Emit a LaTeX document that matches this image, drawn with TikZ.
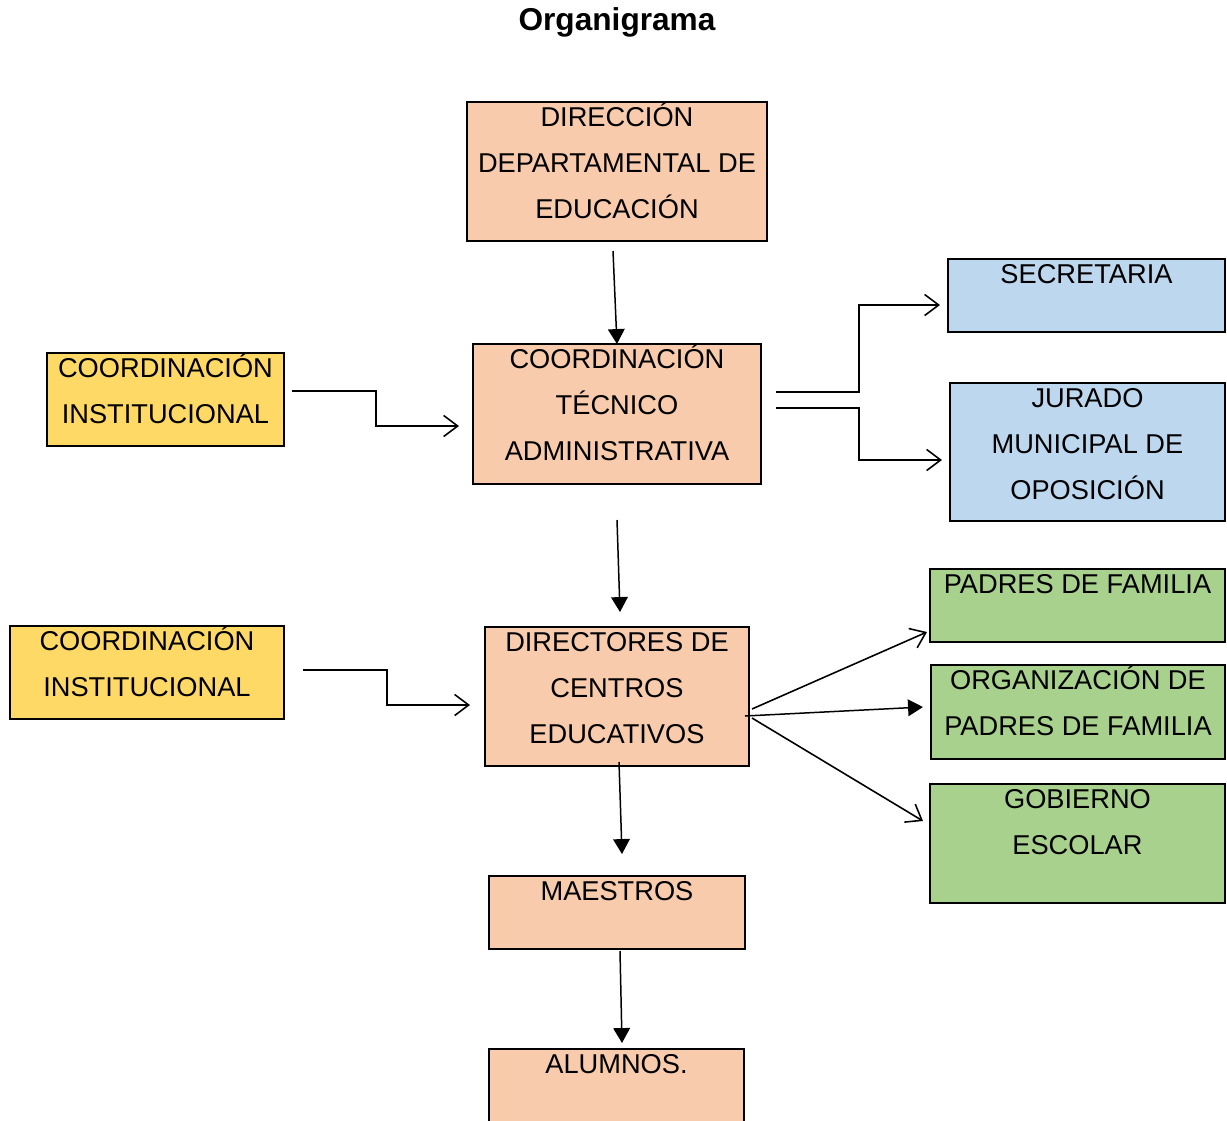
\documentclass[tikz,border=0pt]{standalone}
\usepackage{fontspec}
\setmainfont{Liberation Sans}
\usetikzlibrary{arrows.meta}
\definecolor{salmon}{HTML}{F8CBAD}
\definecolor{amarillo}{HTML}{FFD966}
\definecolor{celeste}{HTML}{BDD7EE}
\definecolor{verde}{HTML}{A9D18E}
\newcommand{\renglones}[1]{\parbox[t]{7cm}{\centering\strut #1}}
\begin{document}
\begin{tikzpicture}[x=0.02cm,y=-0.02cm,font=\fontsize{15.5}{26}\selectfont,
  caja/.style={draw,line width=1.1pt,outer sep=0pt,inner sep=0pt,anchor=north west},
  txt/.style={anchor=north,inner sep=0pt,yshift=4.3pt},
  abierta/.style={-{Straight Barb[length=8pt,width=12pt]},line width=.9pt},
  llena/.style={-{Triangle[length=8.5pt,width=9.5pt]},line width=.85pt}]
\useasboundingbox (0,0) rectangle (1227,1120);
\node[font=\bfseries\fontsize{18}{22}\selectfont] (titulo) at (617,22) {Organigrama};
% columna central
\node[caja,fill=salmon,minimum width=6cm,minimum height=2.78cm,label={[txt]north:\renglones{DIRECCIÓN\\DEPARTAMENTAL DE\\EDUCACIÓN}}] (dir) at (467,102) {};
\node[caja,fill=salmon,minimum width=5.76cm,minimum height=2.8cm,label={[txt]north:\renglones{COORDINACIÓN\\TÉCNICO\\ADMINISTRATIVA}}] (ctec) at (473,344) {};
\node[caja,fill=salmon,minimum width=5.28cm,minimum height=2.78cm,label={[txt]north:\renglones{DIRECTORES DE\\CENTROS\\EDUCATIVOS}}] (dce) at (485,627) {};
\node[caja,fill=salmon,minimum width=5.12cm,minimum height=1.46cm,label={[txt]north:\renglones{MAESTROS}}] (mae) at (489,876) {};
\node[caja,fill=salmon,minimum width=5.1cm,minimum height=2cm,label={[txt]north:\renglones{ALUMNOS.}}] (alu) at (489,1049) {};
% izquierda
\node[caja,fill=amarillo,minimum width=4.74cm,minimum height=1.86cm,label={[txt]north:\renglones{COORDINACIÓN\\INSTITUCIONAL}}] (ci1) at (47,353) {};
\node[caja,fill=amarillo,minimum width=5.48cm,minimum height=1.86cm,label={[txt]north:\renglones{COORDINACIÓN\\INSTITUCIONAL}}] (ci2) at (10,626) {};
% derecha
\node[caja,fill=celeste,minimum width=5.54cm,minimum height=1.46cm,label={[txt]north:\renglones{SECRETARIA}}] (sec) at (948,259) {};
\node[caja,fill=celeste,minimum width=5.5cm,minimum height=2.76cm,label={[txt]north:\renglones{JURADO\\MUNICIPAL DE\\OPOSICIÓN}}] (jur) at (950,383) {};
\node[caja,fill=verde,minimum width=5.9cm,minimum height=1.46cm,label={[txt]north:\renglones{PADRES DE FAMILIA}}] (pad) at (930,569) {};
\node[caja,fill=verde,minimum width=5.88cm,minimum height=1.88cm,label={[txt]north:\renglones{ORGANIZACIÓN DE\\PADRES DE FAMILIA}}] (org) at (931,665) {};
\node[caja,fill=verde,minimum width=5.9cm,minimum height=2.38cm,label={[txt]north:\renglones{GOBIERNO\\ESCOLAR}}] (gob) at (930,784) {};
% extremos libres de las flechas
\coordinate (d1) at (613,251);
\coordinate (c1) at (617,520);
\coordinate (c2) at (620,612);
\coordinate (e1) at (619,762);
\coordinate (e2) at (622,854);
\coordinate (m1) at (620,951);
\coordinate (m2) at (622,1043);
\coordinate (i1) at (292,391); \coordinate (i1f) at (459,426);
\coordinate (i2) at (303,670); \coordinate (i2f) at (470,705);
\coordinate (s1) at (776,392); \coordinate (s1f) at (940,305);
\coordinate (s2) at (776,408); \coordinate (s2f) at (942,460);
\coordinate (p1) at (752,709); \coordinate (p1f) at (927,632);
\coordinate (o1) at (745,716); \coordinate (o1f) at (923,707);
\coordinate (g1) at (752,718); \coordinate (g1f) at (923,821);
\draw[llena] (d1)--(ctec.north);
\draw[llena] (c1)--(c2);
\draw[llena] (e1)--(e2);
\draw[llena] (m1)--(m2);
\draw[abierta] (i1)--++(84,0)|-(i1f);
\draw[abierta] (i2)--++(84,0)|-(i2f);
\draw[abierta] (s1)--++(83,0)|-(s1f);
\draw[abierta] (s2)--++(83,0)|-(s2f);
\draw[abierta] (p1)--(p1f);
\draw[llena] (o1)--(o1f);
\draw[abierta] (g1)--(g1f);
\end{tikzpicture}
\end{document}
